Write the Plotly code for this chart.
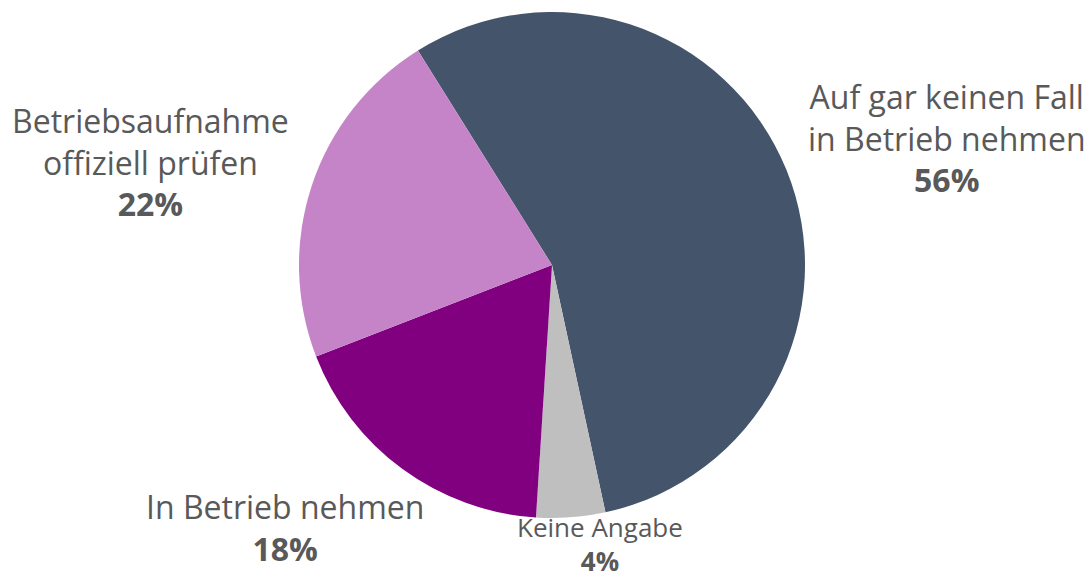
import plotly.graph_objects as go

# data (shares; labels show them rounded)
labels = ["Auf gar keinen Fall<br>in Betrieb nehmen", "Keine Angabe",
          "In Betrieb nehmen", "Betriebsaufnahme<br>offiziell prüfen"]
values = [55.5, 4.4, 18.1, 22.0]
colors = ["#44546A", "#BFBFBF", "#800080", "#C584C7"]

# label placement (paper coords) and font size per slice
label_pos = [(0.8696, 0.762), (0.551, 0.058), (0.2617, 0.087), (0.138, 0.72)]
label_size = [32, 26, 32, 32]

W, H = 1089, 578
cx, cy, r = 552, 265, 253

fig = go.Figure(go.Pie(
  labels=labels, values=values, sort=False, direction="clockwise",
  rotation=-32, marker=dict(colors=colors, line=dict(width=0)),
  textinfo="none", hoverinfo="label+percent", showlegend=False,
  domain=dict(x=[(cx - r) / W, (cx + r) / W], y=[1 - (cy + r) / H, 1 - (cy - r) / H]),
))

total = sum(values)
for lab, val, (x, y), sz in zip(labels, values, label_pos, label_size):
  pct = int(val / total * 100 + 0.5)
  fig.add_annotation(x=x, y=y, xref="paper", yref="paper", showarrow=False,
                     xanchor="center", yanchor="middle",
                     text=f"{lab}<br><b>{pct}%</b>", align="center",
                     font=dict(size=sz, color="#595959", family="Open Sans"))

fig.update_layout(width=W, height=H, margin=dict(l=0, r=0, t=0, b=0),
                  paper_bgcolor="white", plot_bgcolor="white",
                  font=dict(family="Open Sans", color="#595959"))
# drop the default body margin so the figure sits at the window's corner
fig.write_html("out.html", config={"displayModeBar": False},
               post_script="document.body.style.margin='0';")
